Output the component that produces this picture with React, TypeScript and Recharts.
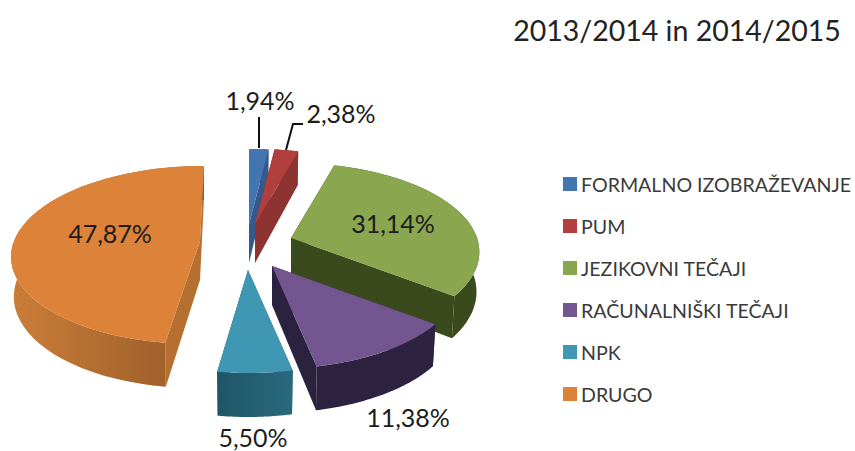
import { PieChart, Pie, Legend } from "recharts";

// Pita 2013/2014 in 2014/2015 - Recharts has no 3D pie, so the sector shape is projected by hand.
const categories = [
  "FORMALNO IZOBRAŽEVANJE",
  "PUM",
  "JEZIKOVNI TEČAJI",
  "RAČUNALNIŠKI TEČAJI",
  "NPK",
  "DRUGO",
];
const shares = [1.94, 2.38, 31.14, 11.38, 5.5, 47.87];

const topColors = ["#4376b1", "#b03f3d", "#8aa64e", "#73558f", "#3f97b3", "#dc8239"];
const cutColors = ["#35598a", "#8d3332", "#3a4a1c", "#2b2240", "#1f5566", "#b56f30"];
const wallFrom = ["#35598a", "#8d3332", "#3a4a1c", "#2d2340", "#1f5566", "#cb7d38"];
const wallTo = ["#35598a", "#8d3332", "#3a4a1c", "#2d2340", "#2a6a7e", "#955a27"];

// how far each slice is pulled out of the centre, px
const explode = [
  [4, -21],
  [10, -21],
  [46, -7],
  [27, 21],
  [3, 25],
  [-45, -4],
];

// the big slice leans a little in the original's perspective
const skew = [0, 0, 0, 0, 0, 4];

// label anchor relative to the pie centre
const labelPos = [
  [15, -135],
  [96, -122],
  [148, -12],
  [163, 182],
  [8, 202],
  [-135, -2],
];

const tableData = categories.map((name, i) => ({ name, value: shares[i], fill: topColors[i] }));

const CX = 245;
const CY = 245;
const RADIUS = 186;
const TILT = 86.8 / 186;
const PERSPECTIVE = 0.157;

function depthAt(v: number) {
  return 39 - 5 * v;
}

function project(ax: number, ay: number, r: number, angle: number, lean: number) {
  const t = ((90 - angle) * Math.PI) / 180;
  const u = Math.sin(t);
  const v = Math.cos(t);
  const s = 1 / (1 + PERSPECTIVE * v);
  return { x: ax + r * u * s + lean * v, y: ay - r * TILT * v * s, v };
}

function toPath(pts: { x: number; y: number }[]) {
  return "M" + pts.map((p) => `${p.x.toFixed(1)},${p.y.toFixed(1)}`).join("L") + "Z";
}

function Slice3D(props: any) {
  const { cx, cy, outerRadius, startAngle, endAngle, name } = props;
  const i = categories.indexOf(name ?? props.payload?.name);
  const ax = cx + explode[i][0];
  const ay = cy + explode[i][1];
  const steps = 48;
  const rim = [];
  for (let k = 0; k <= steps; k++) {
    rim.push(project(ax, ay, outerRadius, startAngle + ((endAngle - startAngle) * k) / steps, skew[i]));
  }
  const drop = (p: { x: number; y: number; v: number }) => ({
    x: ax + (p.x - ax) * 0.985,
    y: p.y + depthAt(p.v),
  });
  const apex = { x: ax, y: ay, v: 0 };
  const first = rim[0];
  const last = rim[steps];
  const gradId = `wall-${i}`;
  return (
    <g>
      <defs>
        <linearGradient id={gradId} x1="0" y1="0" x2="1" y2="0">
          <stop offset="0%" stopColor={wallFrom[i]} />
          <stop offset="100%" stopColor={wallTo[i]} />
        </linearGradient>
      </defs>
      <path d={toPath([apex, first, drop(first), drop(apex)])} fill={cutColors[i]} />
      <path d={toPath([apex, last, drop(last), drop(apex)])} fill={cutColors[i]} />
      <path d={toPath([...rim, ...rim.map(drop).reverse()])} fill={`url(#${gradId})`} />
      <path d={toPath([apex, ...rim])} fill={topColors[i]} />
    </g>
  );
}

function SliceLabel(props: any) {
  const i = categories.indexOf(props.name ?? props.payload?.name);
  const text = shares[i].toFixed(2).replace(".", ",") + "%";
  return (
    <g>
      {i === 0 && <polyline points="259,148 259,117" fill="none" stroke="#111" strokeWidth={2} />}
      {i === 1 && <polyline points="286,150 293,124 303,124" fill="none" stroke="#111" strokeWidth={2} />}
      <text
        x={CX + labelPos[i][0]}
        y={CY + labelPos[i][1]}
        textAnchor="middle"
        fontFamily="Lato"
        fontSize={25}
        fill="#1c1c1c"
      >
        {text}
      </text>
    </g>
  );
}

function LegendList({ payload }: any) {
  // keep the data order, not the legend's sorted order
  const rows = categories.map((name) => (payload ?? []).find((p: any) => p.value === name)).filter(Boolean);
  return (
    <div>
      {rows.map((entry: any) => (
        <div key={entry.value} style={{ display: "flex", alignItems: "center", height: 42 }}>
          <span style={{ width: 14, height: 14, background: entry.color, marginRight: 4 }} />
          <span style={{ fontFamily: "Lato", fontSize: 19.6, color: "#3a3a3a", whiteSpace: "nowrap" }}>
            {entry.value}
          </span>
        </div>
      ))}
    </div>
  );
}

export default function App() {
  return (
    <div style={{ position: "absolute", left: 0, top: 0, width: 855, height: 451, background: "#fff" }}>
      <PieChart width={855} height={451} margin={{ top: 0, right: 0, bottom: 0, left: 0 }}>
        <text x={677} y={41} textAnchor="middle" fontFamily="Lato" fontSize={28.5} fill="#222">
          2013/2014 in 2014/2015
        </text>
        <Pie
          data={tableData}
          dataKey="value"
          nameKey="name"
          cx={CX}
          cy={CY}
          outerRadius={RADIUS}
          startAngle={90}
          endAngle={-270}
          stroke="none"
          shape={Slice3D}
          label={SliceLabel}
          labelLine={false}
          isAnimationActive={false}
        />
        <Legend
          content={LegendList}
          wrapperStyle={{ left: 563, top: 163, width: 292, bottom: "auto", right: "auto" }}
        />
      </PieChart>
    </div>
  );
}
